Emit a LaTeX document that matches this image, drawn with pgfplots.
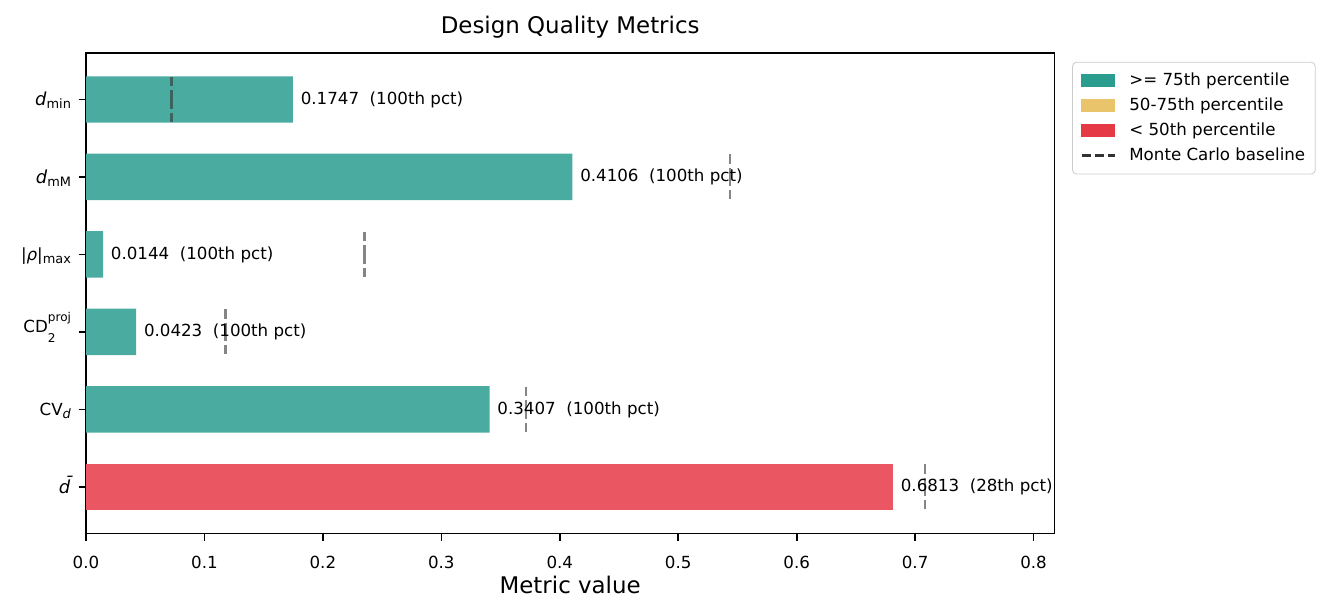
\documentclass[border=0pt]{standalone}
\usepackage{fontspec}
\setmainfont{DejaVu Sans}
\usepackage{pgfplots}
\usepackage{pgfplotstable}
\pgfplotsset{compat=1.18}

\definecolor{hi}{HTML}{2A9D8F}
\definecolor{mid}{HTML}{E9C46A}
\definecolor{lo}{HTML}{E63946}
\definecolor{mc}{HTML}{333333}

% metric value, Monte Carlo baseline and percentile rank per row
\pgfplotstableread{
y v      base   pct
5 0.1747 0.0720 100
4 0.4106 0.5436 100
3 0.0144 0.2350 100
2 0.0423 0.1176 100
1 0.3407 0.3714 100
}\goodtab
\pgfplotstableread{
y v      base   pct
0 0.6813 0.7083 28
}\poortab

\newcommand\sbs[1]{\raisebox{-1.6pt}{\fontsize{6.2}{7}\selectfont #1}}
\newcommand\md{{\fontsize{8.6}{9}\selectfont\textit{d}}}
\newcommand\eightpt{\fontsize{8}{9.6}\selectfont}

\begin{document}
\begin{tikzpicture}
\useasboundingbox (0,0) rectangle (639.36pt,-295.2pt);
\begin{axis}[
  at={(41.28pt,-25.44pt)}, anchor=north west,
  width=464.8pt, height=230.6pt, scale only axis,
  xmin=0, xmax=0.81756, ymin=-0.6, ymax=5.6,
  clip=false,
  axis line style={line width=0.8pt, black},
  tick style={line width=0.8pt, black},
  major tick length=3.5pt, tick align=outside,
  xtick pos=bottom, ytick pos=left,
  xtick={0,0.1,0.2,0.3,0.4,0.5,0.6,0.7,0.8},
  ytick={0,1,2,3,4,5},
  yticklabels={{{\fontsize{8.6}{9}\selectfont\textit{\=d}}}, {CV\sbs{\textit{d}}},
               {\raisebox{2.5pt}{CD\rlap{\raisebox{-4.6pt}{\fontsize{5.8}{6}\selectfont 2}}\raisebox{5.6pt}{\fontsize{5.8}{6}\selectfont proj}}},
               {|\textit{ρ}|\sbs{max}}, {\md\sbs{mM}}, {\md\sbs{min}}},
  /pgf/number format/assume math mode=true,
  xticklabel style={font=\eightpt, anchor=north, inner sep=0pt, text height=5.83pt, text depth=0pt, yshift=-7.2pt,
    /pgf/number format/.cd, fixed, fixed zerofill, precision=1},
  yticklabel style={font=\eightpt, anchor=east, inner sep=0pt, text height=5.83pt, text depth=0pt, xshift=-3.5pt},
  title={Design Quality Metrics},
  title style={font=\fontsize{11}{13}\selectfont, at={(axis description cs:0.5,1)}, anchor=base, inner sep=0pt, yshift=3.4pt},
  xlabel={Metric value},
  xlabel style={font=\fontsize{11}{13}\selectfont, at={(axis description cs:0.5,0)}, anchor=base, inner sep=0pt, yshift=-28.7pt},
  legend style={at={(1,1)}, anchor=north west, xshift=8.5pt, yshift=-4.2pt,
    draw=black!20, rounded corners=2pt, fill=white, font=\eightpt,
    inner xsep=3.8pt, inner ysep=4pt, row sep=2.3pt, column sep=5.5pt,
    nodes={inner sep=1pt, text height=6pt, text depth=1.7pt}},
  legend cell align=left,
  bar label/.style={
    xbar, bar width=0.6, draw=none,
    point meta=x,
    visualization depends on={\thisrow{pct} \as \pct},
    nodes near coords={\pgfmathprintnumber[fixed,fixed zerofill,precision=4]{\pgfplotspointmeta}\hspace{0.636em}(\pgfmathprintnumber[fixed,precision=0]{\pct}th pct)},
    every node near coord/.append style={font=\eightpt, anchor=west, inner sep=0pt, xshift=3.6pt, black},
  },
  baseline bars/.style={
    draw=none, no markers,
    error bars/y dir=both, error bars/y fixed=0.32, error bars/error mark=none,
    error bars/error bar style={draw=mc, draw opacity=0.6, line width=1.2pt, dash pattern=on 4.44pt off 1.92pt},
  },
]
% bars coloured by percentile class
\addplot[bar label, fill=hi!85!white, forget plot] table[x=v, y=y] {\goodtab};
\addplot[bar label, fill=lo!85!white, forget plot] table[x=v, y=y] {\poortab};

% Monte Carlo reference values
\addplot[baseline bars, forget plot] table[x=base, y=y] {\goodtab};
\addplot[baseline bars, forget plot] table[x=base, y=y] {\poortab};

\addlegendimage{legend image code/.code={\fill[hi, sharp corners] (0pt,-2.8pt) rectangle (15.8pt,2.8pt);}}
\addlegendentry{>= 75th percentile}
\addlegendimage{legend image code/.code={\fill[mid, sharp corners] (0pt,-2.8pt) rectangle (15.8pt,2.8pt);}}
\addlegendentry{50-75th percentile}
\addlegendimage{legend image code/.code={\fill[lo, sharp corners] (0pt,-2.8pt) rectangle (15.8pt,2.8pt);}}
\addlegendentry{< 50th percentile}
\addlegendimage{legend image code/.code={\draw[mc, sharp corners, line width=1.2pt, dash pattern=on 4.44pt off 1.92pt] (0pt,0pt) -- (15.8pt,0pt);}}
\addlegendentry{Monte Carlo baseline}
\end{axis}
\end{tikzpicture}
\end{document}
